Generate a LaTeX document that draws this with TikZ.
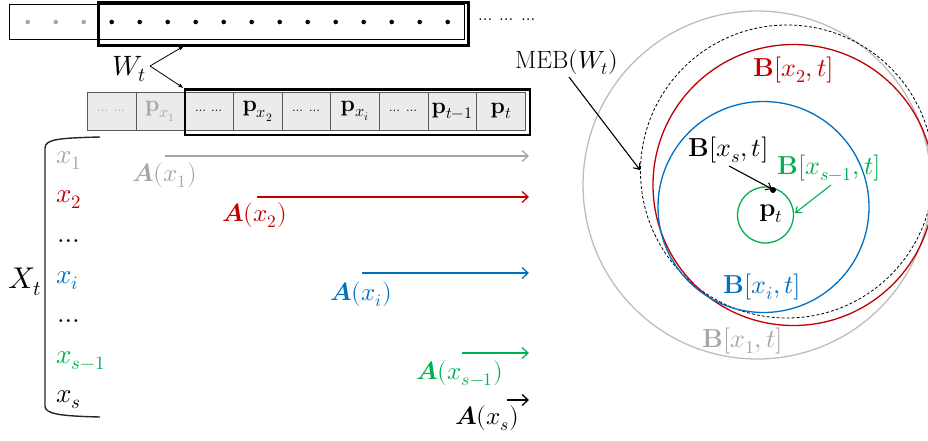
\documentclass[tikz,border=0pt]{standalone}
\usepackage{unicode-math}
\usetikzlibrary{arrows.meta}
\definecolor{cgray}{HTML}{A6A6A6}
\definecolor{lgray}{HTML}{BDBDBD}
\definecolor{cred}{HTML}{C00000}
\definecolor{cblue}{HTML}{0070C0}
\definecolor{cgreen}{HTML}{00B050}
\definecolor{cellfill}{HTML}{EBEBEB}
\newcommand{\fs}[1]{\fontsize{#1}{#1}\selectfont}
\newcommand{\celldots}{\fs{13}$\ldots\;\ldots$}
\begin{document}
\begin{tikzpicture}[x=1pt,y=-1pt,
  lbl/.style={inner sep=0pt, anchor=west},
  xl/.style={inner sep=0pt, anchor=base west, font=\fs{27}},
  cell/.style={draw=black!65, line width=0.7pt, fill=cellfill, minimum width=48.67pt,
    minimum height=38pt, inner sep=0pt, anchor=west, font=\fs{23}},
  harrow/.style={line width=1.3pt, -{Straight Barb[length=6pt,width=11pt]}},
  sarrow/.style={line width=1.1pt, -{Straight Barb[length=5pt,width=8pt]}},
  warrow/.style={line width=0.8pt, -{Latex[length=5pt,width=4pt]}},
  ring/.style={line width=1.3pt}
]
\useasboundingbox (0,0) rectangle (928,440);

% ---------- top stream ----------
\node[draw, line width=1pt, minimum width=455pt, minimum height=35pt, inner sep=0pt,
  anchor=north west] (strip) at (9,4) {};
\foreach \i in {0,1,2} \fill[cgray] (27.7+28*\i,22) circle[radius=2.3pt];
\foreach \i in {0,...,12} \fill[black] (111.7+28*\i,22) circle[radius=2.3pt];
\node[draw, line width=2.6pt, minimum width=370pt, minimum height=42.5pt, inner sep=0pt,
  anchor=north west] (win) at (97,1.4) {};
\node[inner sep=0pt, anchor=base west, font=\fs{17}] (more) at (478,20) {$\ldots\;\ldots\;\ldots$};

% ---------- window cells ----------
\node[cell, text=cgray] (c1) at (87,111) {\celldots};
\node[cell, text=cgray] (c2) at (135.67,111) {$\mathbf{p}_{x_1}$};
\node[cell] (c3) at (184.33,111) {\celldots};
\node[cell] (c4) at (233,111) {$\mathbf{p}_{x_2}$};
\node[cell] (c5) at (281.67,111) {\celldots};
\node[cell] (c6) at (330.33,111) {$\mathbf{p}_{x_i}$};
\node[cell] (c7) at (379,111) {\celldots};
\node[cell] (c8) at (427.67,111) {$\mathbf{p}_{t-1}$};
\node[cell] (c9) at (476.33,111) {$\mathbf{p}_{t}$};
\node[draw, line width=2.6pt, minimum width=345pt, minimum height=45.5pt, inner sep=0pt,
  anchor=north west] (win2) at (183.5,88) {};

% ---------- W_t ----------
\node[inner sep=0pt, anchor=base west, font=\fs{28}] (Wt) at (112,75) {$W_t$};
\coordinate (wv) at (150,66);
\coordinate (wa) at (184,46);
\draw[warrow] (wv) -- (wa);
\draw[warrow] (wv) -- (win2.north west);

% ---------- X_t bracket ----------
\node[inner sep=0pt, anchor=base west, font=\fs{30}] (Xt) at (8,288) {$X_t$};
\coordinate (bt) at (100,137);
\coordinate (bb) at (100,417);
\draw[line width=1.4pt, black!85] (bt) .. controls (60,138) and (45,139) .. (45,148)
  -- (45,406) .. controls (45,414) and (60,416) .. (bb);
\node[xl, text=cgray] (x1) at (56,163) {$x_1$};
\node[xl, text=cred] (x2) at (56,202) {$x_2$};
\node[xl] (d1) at (57,242) {$\ldots$};
\node[xl, text=cblue] (xi) at (56,283) {$x_i$};
\node[xl] (d2) at (57,322) {$\ldots$};
\node[xl, text=cgreen] (xs1) at (56,363) {$x_{s-1}$};
\node[xl] (xs) at (56,402) {$x_s$};

% ---------- A arrows ----------
\coordinate (a1s) at (165,156); \coordinate (a1e) at (529,156);
\coordinate (a2s) at (257,197); \coordinate (a2e) at (529,197);
\coordinate (a3s) at (362,273); \coordinate (a3e) at (529,273);
\coordinate (a4s) at (462,353); \coordinate (a4e) at (529,353);
\coordinate (a5s) at (507,400); \coordinate (a5e) at (529,400);
\draw[harrow, cgray] (a1s) -- (a1e);
\draw[harrow, cred] (a2s) -- (a2e);
\draw[harrow, cblue] (a3s) -- (a3e);
\draw[harrow, cgreen] (a4s) -- (a4e);
\draw[harrow, black] (a5s) -- (a5e);
\node[lbl, font=\fs{25}, text=cgray] (A1) at (132,175) {$\symbfit{A}(x_1)$};
\node[lbl, font=\fs{25}, text=cred] (A2) at (222,215) {$\symbfit{A}(x_2)$};
\node[lbl, font=\fs{25}, text=cblue] (A3) at (330,294) {$\symbfit{A}(x_i)$};
\node[lbl, font=\fs{25}, text=cgreen] (A4) at (416,373) {$\symbfit{A}(x_{s-1})$};
\node[lbl, font=\fs{25}, text=black] (A5) at (455,418) {$\symbfit{A}(x_s)$};

% ---------- balls ----------
\draw[ring, lgray] (757,185) circle[radius=174pt];
\draw[line width=0.8pt, black, dash pattern=on 3pt off 2pt] (787,171.5) circle[radius=146.5pt];
\draw[ring, cred] (793.5,185) circle[radius=140.5pt];
\draw[ring, cblue] (763.5,207) circle[radius=105.5pt];
\draw[ring, cgreen] (765.5,215) circle[radius=28pt];
\node[inner sep=0pt, font=\fs{26}] (pt) at (771,214) {$\mathbf{p}_t$};
\fill (773,190) circle[radius=3pt];
\coordinate (dot) at (772,189);
\coordinate (meb) at (640,170);
\coordinate (gtip) at (795,213);

\node[lbl, font=\fs{25}] (MEB) at (515,62) {$\mathrm{MEB}(W_t)$};
\node[lbl, font=\fs{26}, text=cred] (B2) at (753,70) {$\mathbf{B}[x_2,t]$};
\node[lbl, font=\fs{26}, text=black] (Bs) at (688,150) {$\mathbf{B}[x_s,t]$};
\node[lbl, font=\fs{26}, text=cgreen] (Bs1) at (777,168) {$\mathbf{B}[x_{s-1},t]$};
\node[lbl, font=\fs{26}, text=cblue] (Bi) at (723,287) {$\mathbf{B}[x_i,t]$};
\node[lbl, font=\fs{26}, text=cgray] (B1) at (702,341) {$\mathbf{B}[x_1,t]$};

\coordinate (mebs) at (569,77);
\coordinate (bss) at (729,166);
\coordinate (gs) at (831,185);
\draw[sarrow] (mebs) -- (meb);
\draw[sarrow] (bss) -- (dot);
\draw[sarrow, cgreen] (gs) -- (gtip);
\end{tikzpicture}
\end{document}
